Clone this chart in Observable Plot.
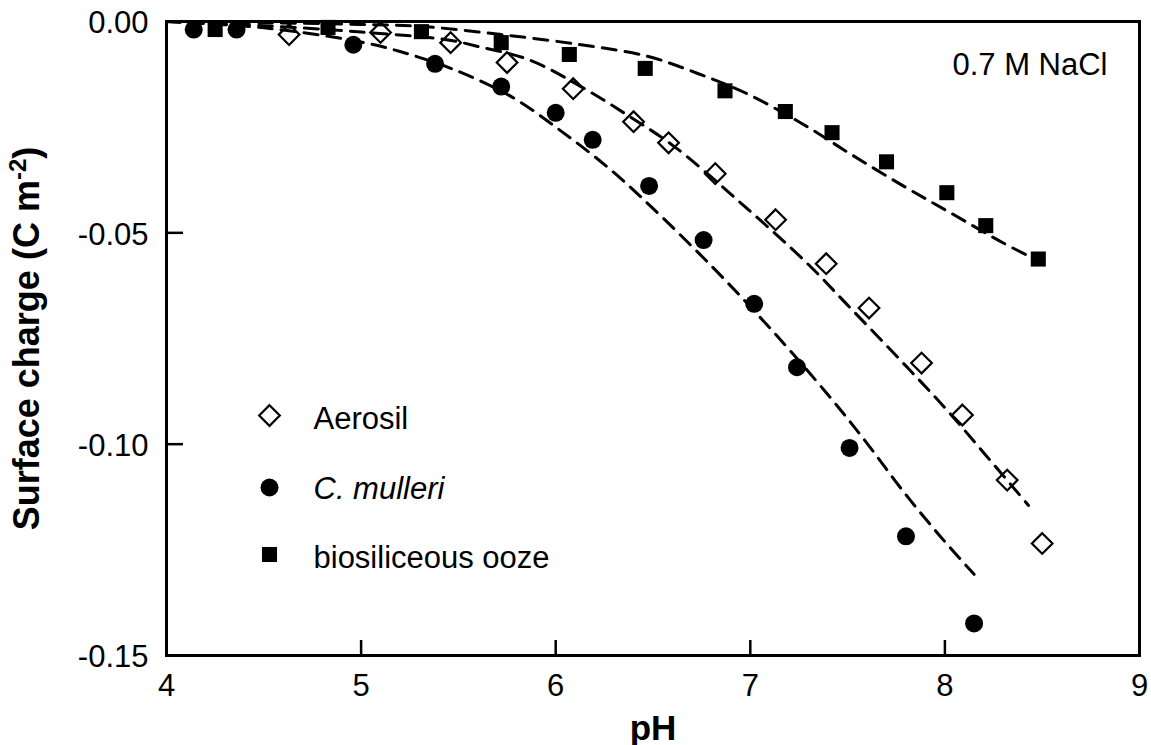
<!DOCTYPE html>
<html>
<head>
<meta charset="utf-8">
<script src="https://cdn.jsdelivr.net/npm/d3@7"></script>
<script src="https://cdn.jsdelivr.net/npm/@observablehq/plot@0.6"></script>
<style>
  html, body { margin: 0; padding: 0; background: white; }
</style>
</head>
<body>
<div id="chart"></div>
<script>
// ---- data ----
const seriesNames = ["Aerosil", "C. mulleri", "biosiliceous ooze"];

const aerosilPH     = [4.63, 5.10, 5.46, 5.75, 6.09, 6.40, 6.58, 6.82, 7.13, 7.39, 7.61, 7.88, 8.09, 8.32, 8.50];
const aerosilCharge = [-0.0031, -0.0026, -0.0050, -0.0097, -0.0159, -0.0237, -0.0287, -0.0360, -0.0469, -0.0573, -0.0678, -0.0808, -0.0931, -0.1085, -0.1235];

const mulleriPH     = [4.14, 4.36, 4.96, 5.38, 5.72, 6.00, 6.19, 6.48, 6.76, 7.02, 7.24, 7.51, 7.80, 8.15];
const mulleriCharge = [-0.0019, -0.0019, -0.0055, -0.0100, -0.0154, -0.0216, -0.0280, -0.0389, -0.0517, -0.0668, -0.0818, -0.1009, -0.1218, -0.1424];

const oozePH     = [4.25, 4.83, 5.31, 5.72, 6.07, 6.46, 6.87, 7.18, 7.42, 7.70, 8.01, 8.21, 8.48];
const oozeCharge = [-0.0019, -0.0014, -0.0024, -0.0050, -0.0078, -0.0111, -0.0164, -0.0213, -0.0263, -0.0332, -0.0405, -0.0483, -0.0562];

// dashed model curves
const aerosilFitPH = [4.0, 4.5, 5.0, 5.44, 5.6, 5.86, 6.13, 6.38, 6.61, 6.95, 7.29, 7.5, 7.81, 8.01, 8.21, 8.43];
const aerosilFit   = [0, -0.001, -0.0025, -0.0043, -0.0059, -0.009, -0.0154, -0.0225, -0.0296, -0.0429, -0.0571, -0.0671, -0.082, -0.0919, -0.1026, -0.1145];

const mulleriFitPH = [4.0, 4.5, 4.96, 5.2, 5.5, 5.78, 6.03, 6.27, 6.49, 6.81, 7.11, 7.41, 7.6, 7.79, 7.98, 8.15];
const mulleriFit   = [0, -0.0015, -0.0045, -0.0071, -0.0118, -0.018, -0.026, -0.0346, -0.0438, -0.0583, -0.073, -0.0889, -0.0998, -0.1114, -0.122, -0.1308];

const oozeFitPH = [4.0, 4.5, 5.0, 5.32, 5.72, 6.13, 6.47, 6.73, 6.97, 7.26, 7.52, 7.79, 8.03, 8.3, 8.44];
const oozeFit   = [0, -0.0003, -0.0007, -0.0012, -0.0031, -0.0055, -0.0082, -0.0123, -0.0168, -0.024, -0.0315, -0.039, -0.0453, -0.0524, -0.0557];

const xTickLabels = [4, 5, 6, 7, 8, 9];
const xInnerTicks = [5, 6, 7, 8];
const yTickLabels = [0, -0.05, -0.10, -0.15];
const yInnerTicks = [-0.05, -0.10];

const xTitle = "pH";
const yTitle = "Surface charge (C m-2)";
const annotation = "0.7 M NaCl";

// ---- build tables ----
const toRows = (xs, ys) => xs.map((x, i) => ({pH: x, q: ys[i]}));
const aerosil = toRows(aerosilPH, aerosilCharge);
const mulleri = toRows(mulleriPH, mulleriCharge);
const ooze = toRows(oozePH, oozeCharge);
const fits = [toRows(aerosilFitPH, aerosilFit), toRows(mulleriFitPH, mulleriFit), toRows(oozeFitPH, oozeFit)];

// ---- layout ----
const W = 1151, H = 745;
const mL = 166, mR = 12, mT = 21, mB = 90;
const plotW = W - mL - mR, plotH = H - mT - mB;
const FONT = "'Liberation Sans', Arial, Helvetica, sans-serif";

const symbolStyles = [
  {symbol: "diamond2", r: 9.3, fill: "none", stroke: "black", strokeWidth: 2.2},
  {symbol: "circle", r: 9, fill: "black", stroke: "none"},
  {symbol: "square", r: 8.5, fill: "black", stroke: "none"}
];
const legendSymDy = [394, 466, 533];
const legendTextDy = [398, 468, 537];

const marks = [];
fits.forEach(f => marks.push(Plot.line(f, {x: "pH", y: "q", curve: "catmull-rom", stroke: "black", strokeWidth: 3, strokeDasharray: "14,9"})));
[aerosil, mulleri, ooze].forEach((d, i) => marks.push(Plot.dot(d, {x: "pH", y: "q", ...symbolStyles[i]})));

marks.push(
  Plot.frame({stroke: "black", strokeWidth: 3}),
  Plot.tickX(xInnerTicks, {x: d => d, insetTop: plotH - 15, stroke: "black", strokeWidth: 2.5}),
  Plot.tickY(yInnerTicks, {y: d => d, insetRight: plotW - 17, stroke: "black", strokeWidth: 2.5}),
  Plot.axisX({ticks: xTickLabels, tickSize: 0, tickPadding: 18, tickFormat: d => String(d), label: null, fontSize: 31, fill: "black"}),
  Plot.axisY({ticks: yTickLabels, tickSize: 0, tickPadding: 18, dy: 2, tickFormat: d => d.toFixed(2), label: null, fontSize: 31, fill: "black"}),
  Plot.text([xTitle], {frameAnchor: "bottom", dy: 60, lineAnchor: "top", textAnchor: "middle", fontWeight: "bold", fontSize: 35, fill: "black"}),
  Plot.text([yTitle], {frameAnchor: "left", rotate: -90, dx: -153, lineAnchor: "top", textAnchor: "middle", fontWeight: "bold", fontSize: 36, fill: "black", className: "ytitle"}),
  Plot.text([annotation], {frameAnchor: "top-right", dx: -32, dy: 31, lineAnchor: "top", textAnchor: "end", fontSize: 31, fill: "black"})
);

seriesNames.forEach((name, i) => {
  marks.push(Plot.dot([name], {frameAnchor: "top-left", dx: 103, dy: legendSymDy[i], ...symbolStyles[i]}));
  marks.push(Plot.text([name], {frameAnchor: "top-left", dx: 147, dy: legendTextDy[i], textAnchor: "start", lineAnchor: "middle", fontSize: 31, fill: "black", fontStyle: i === 1 ? "italic" : "normal"}));
});

const chart = Plot.plot({
  width: W, height: H,
  marginLeft: mL, marginRight: mR, marginTop: mT, marginBottom: mB,
  style: {fontFamily: FONT, background: "white", color: "black", overflow: "visible"},
  x: {domain: [4, 9]},
  y: {domain: [-0.15, 0]},
  marks
});
document.getElementById("chart").appendChild(chart);

// superscript for m-2
d3.select(chart).selectAll("g.ytitle text").each(function () {
  const t = d3.select(this);
  t.text(null);
  t.append("tspan").text("Surface charge (C m");
  t.append("tspan").attr("baseline-shift", "super").attr("font-size", "24px").text("-2");
  t.append("tspan").text(")");
});
</script>
</body>
</html>
